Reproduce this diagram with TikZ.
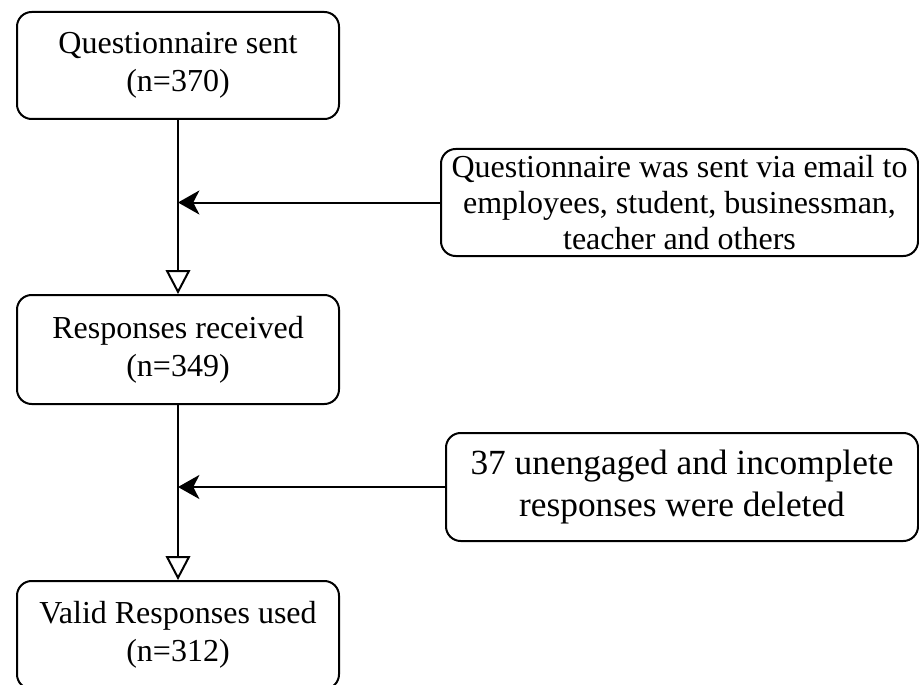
\documentclass[tikz,border=0pt]{standalone}
\usepackage{fontspec}
\setmainfont{Liberation Serif}
\usetikzlibrary{arrows.meta}
\begin{document}
\begin{tikzpicture}[x=0.75pt,y=-0.75pt,
  box/.style={draw=black, line width=1.5pt, rounded corners=11pt, align=center, inner sep=0pt, fill=white},
  flow/.style={line width=1.5pt, -{Triangle[open,length=18pt,width=18.5pt,line width=1.5pt]}},
  side/.style={line width=1.5pt, -{Stealth[length=16pt,width=18pt,inset=4.5pt]}},
  f32/.style={font=\fontsize{24}{28.5}\selectfont},
  f32b/.style={font=\fontsize{24}{27}\selectfont},
  f35/.style={font=\fontsize{26.5}{32}\selectfont}]
\useasboundingbox (0,0) rectangle (919,684);
\clip (0,0) rectangle (919,684);
\node[box,f32,minimum width=322*0.75pt,minimum height=107*0.75pt] (q1) at (178,65.5) {Questionnaire sent\\(n=370)};
\node[box,f32,minimum width=322*0.75pt,minimum height=109*0.75pt] (q2) at (178,349.5) {Responses received\\(n=349)};
\node[box,f32,minimum width=322*0.75pt,minimum height=108*0.75pt] (q3) at (178,635) {Valid Responses used\\(n=312)};
\node[box,f32b,minimum width=477*0.75pt,minimum height=107*0.75pt] (r1) at (679.5,202.5) {Questionnaire was sent via email to\\employees, student, businessman,\\teacher and others};
\node[box,f35,minimum width=472*0.75pt,minimum height=108*0.75pt] (r2) at (682,487) {37 unengaged and incomplete\\responses were deleted};
\draw[flow] (q1.south) -- (q2.north);
\draw[flow] (q2.south) -- (q3.north);
\coordinate (m1) at (r1.west -| q1.south);
\coordinate (m2) at (r2.west -| q2.south);
\draw[side] (r1.west) -- (m1);
\draw[side] (r2.west) -- (m2);
\end{tikzpicture}
\end{document}
